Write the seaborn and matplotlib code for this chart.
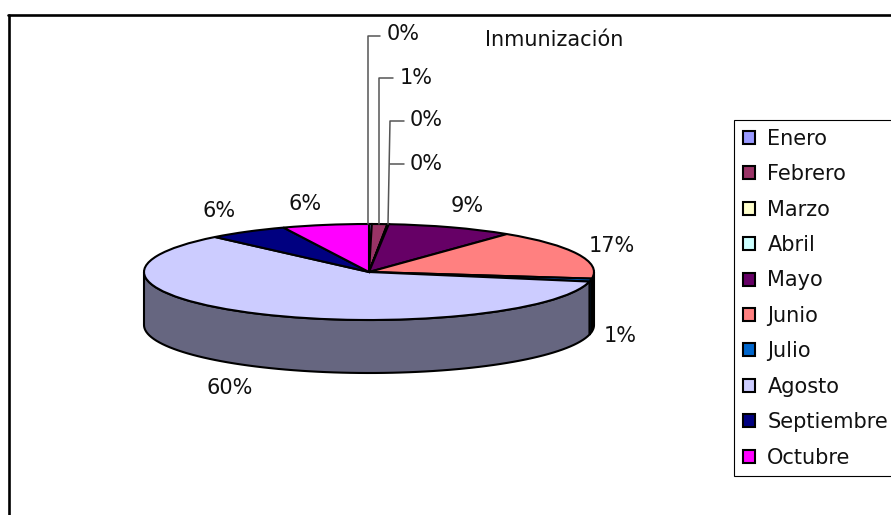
import numpy as np
import matplotlib
matplotlib.use("Agg")
import matplotlib.pyplot as plt
from matplotlib.lines import Line2D
import seaborn as sns

months = ["Enero", "Febrero", "Marzo", "Abril", "Mayo", "Junio", "Julio",
          "Agosto", "Septiembre", "Octubre"]
shares = [0.2, 1.1, 0.05, 0.05, 9.1, 16.7, 1.0, 59.8, 5.8, 6.2]
month_colors = ["#9999FF", "#993366", "#FFFFCC", "#CCFFFF", "#660066",
                "#FF8080", "#0066CC", "#CCCCFF", "#000080", "#FF00FF"]
chart_title = "Inmunización"

W, H = 891, 515
CX, CY, RX, RY, DEPTH = 369, 272, 225, 48, 53
EDGE = 1.5
FONT = 15

sns.set_theme(style="white")
plt.rcParams["font.family"] = ["DejaVu Sans"]
palette = sns.color_palette(month_colors)


def fx(x):
    return x / W


def fy(y):
    return 1 - y / H


fig = plt.figure(figsize=(W / 100, H / 100), dpi=100, facecolor="white")
ax = fig.add_axes([0, 0, 1, 1])

# Top face of the disc
wedges, _ = ax.pie(shares, colors=palette, startangle=90, counterclock=False,
                   wedgeprops=dict(edgecolor="black", linewidth=EDGE))
ax.set_aspect("auto")
ax.set_xlim(-CX / RX, (W - CX) / RX)
ax.set_ylim((CY - H) / RY, CY / RY)

# Side wall: only the front half of the disc (clockwise 90 to 270 degrees from the top)
depth = DEPTH / RY
edges = np.concatenate([[0], np.cumsum(shares)]) / sum(shares) * 360
for start, end, col in zip(edges[:-1], edges[1:], palette):
    a, b = max(start, 90), min(end, 270)
    if a >= b:
        continue
    t = np.radians(np.linspace(a, b, 80))
    x, y = np.sin(t), np.cos(t)
    dark = tuple(c * 0.5 for c in col)
    ax.fill(np.r_[x, x[::-1]], np.r_[y, y[::-1] - depth], facecolor=dark,
            edgecolor="black", linewidth=EDGE, zorder=0.5)

# Percentage labels, with elbow leaders for the narrow slices at the top
label_pos = [(403, 34), (416, 78), (426, 164), (426, 120), (467, 206),
             (612, 246), (620, 336), (230, 388), (219, 211), (305, 204)]
for share, (x, y) in zip(shares, label_pos):
    fig.text(fx(x), fy(y), f"{round(share)}%", fontsize=FONT, color="#111111",
             ha="center", va="center")

leaders = [[(368, 224), (368, 36), (380, 36)],
           [(379, 224), (379, 78), (393, 78)],
           [(388, 224), (390, 121), (404, 121)],
           [(390, 164), (404, 164)]]
for path in leaders:
    px, py = zip(*path)
    fig.add_artist(Line2D([fx(p) for p in px], [fy(p) for p in py],
                          color="#555555", linewidth=1.1))

fig.text(fx(554), fy(40), chart_title, fontsize=FONT, color="#111111",
         ha="center", va="center")

# Chart frame: top and left rules only reach the canvas edges
fig.add_artist(Line2D([fx(8), 1], [fy(15), fy(15)], color="black", linewidth=1.9))
fig.add_artist(Line2D([fx(9), fx(9)], [fy(15), 0], color="black", linewidth=1.9))

legend = ax.legend(wedges, months, loc="upper left",
                   bbox_to_anchor=(fx(734), fy(120)),
                   bbox_transform=fig.transFigure, borderaxespad=0,
                   fontsize=FONT, frameon=True, fancybox=False, framealpha=1,
                   edgecolor="black", borderpad=0.42, labelspacing=0.74,
                   handlelength=0.58, handleheight=0.58, handletextpad=0.6,
                   labelcolor="#111111")
legend.get_frame().set_linewidth(0.8)

fig.savefig("out.png", dpi=100)
